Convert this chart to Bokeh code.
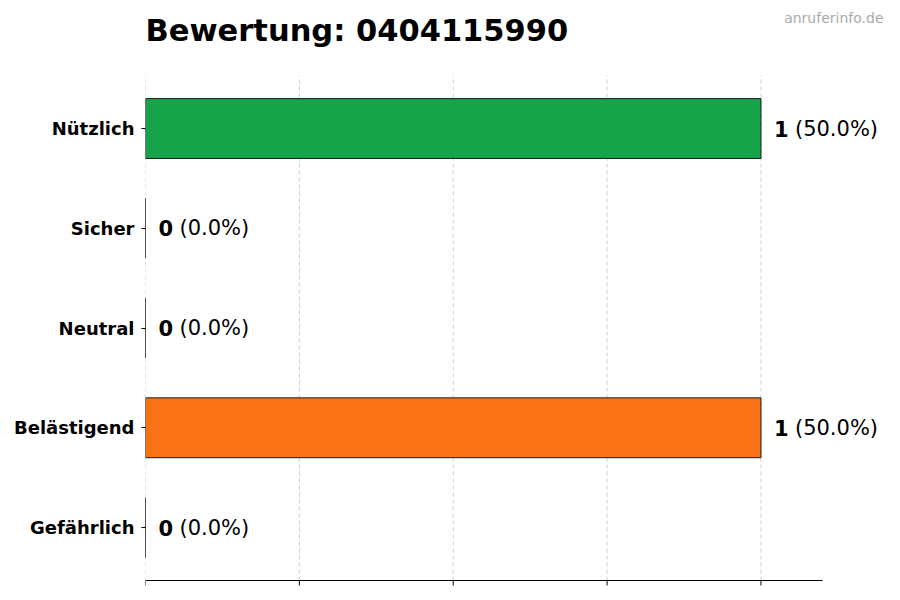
from bokeh.plotting import figure
from bokeh.models import ColumnDataSource, Range1d, FixedTicker
from bokeh.core.properties import value
from bokeh.embed import file_html
from bokeh.resources import INLINE

# data (top to bottom in the picture)
categories = ["Nützlich", "Sicher", "Neutral", "Belästigend", "Gefährlich"]
positions = [4, 3, 2, 1, 0]
counts = [1, 0, 0, 1, 0]
count_labels = ["1", "0", "0", "1", "0"]
pct_labels = ["(50.0%)", "(0.0%)", "(0.0%)", "(50.0%)", "(0.0%)"]
colors = ["#16a34a", "#9ca3af", "#3b82f6", "#f97316", "#dc2626"]
x_ticks = [0, 0.25, 0.5, 0.75, 1.0]
x_axis_max = 1.1
title_text = "Bewertung: 0404115990"
watermark = "anruferinfo.de"

FONT = "DejaVu Sans"

# layout (pixels)
LEFT = 145
FRAME_W = 750
AXIS_W = 677           # pixel length of the drawn x axis (0 .. x_axis_max)
FRAME_H = 600
BOTTOM_GAP = 20        # pixels below the x axis line
ROW_PX = 99.75
PAD = 0.531            # category padding in row units
TICK_LEN = 5 / ROW_PX

x_end = x_axis_max * FRAME_W / AXIS_W
y_axis = min(positions) - PAD
y_top_row = max(positions) + PAD
y_start = y_axis - BOTTOM_GAP / ROW_PX
y_end = y_start + FRAME_H / ROW_PX

src = ColumnDataSource(dict(y=positions, n=counts, nl=count_labels, pl=pct_labels, c=colors))
grid_src = ColumnDataSource(dict(x=x_ticks, y0=[y_axis] * len(x_ticks), y1=[y_top_row] * len(x_ticks),
                                 t1=[y_axis - TICK_LEN] * len(x_ticks)))

p = figure(
    x_range=Range1d(0, x_end), y_range=Range1d(y_start, y_end),
    frame_width=FRAME_W, frame_height=FRAME_H,
    min_border_left=LEFT, min_border_right=5, min_border_top=0, min_border_bottom=0,
    output_backend="svg", toolbar_location=None,
)
p.title = None
p.outline_line_color = None
p.background_fill_color = "white"
p.border_fill_color = "white"
p.xgrid.grid_line_color = None
p.ygrid.grid_line_color = None
p.xaxis.visible = False

# dashed vertical grid lines (only over the plot area)
p.segment(x0="x", x1="x", y0="y0", y1="y1", source=grid_src, line_color="#cfcfcf",
          line_dash="4 3", line_width=1, level="underlay")

p.hbar(y="y", left=0, right="n", height=0.6, source=src,
       fill_color="c", line_color="#1a1a1a", line_width=1)

# x axis line and tick marks
p.segment(x0=[0], x1=[x_axis_max], y0=[y_axis], y1=[y_axis], line_color="black", line_width=1)
p.segment(x0="x", x1="x", y0="y0", y1="t1", source=grid_src, line_color="black", line_width=1)

# value labels: bold count + regular percentage
p.text(x="n", y="y", text="nl", source=src, x_offset=13,
       text_font=value(FONT), text_font_size="21px", text_font_style="bold",
       text_baseline="middle", text_align="left", text_color="black")
p.text(x="n", y="y", text="pl", source=src, x_offset=34,
       text_font=value(FONT), text_font_size="21px", text_font_style="normal",
       text_baseline="middle", text_align="left", text_color="black")

# title and watermark anchored to the top of the frame
p.text(x=[0], y=[y_end], text=[title_text], y_offset=30,
       text_font=value(FONT), text_font_size="30.5px", text_font_style="bold",
       text_baseline="alphabetic", text_align="left", text_color="black")
p.text(x=[x_end], y=[y_end], text=[watermark], x_offset=-12, y_offset=17,
       text_font=value(FONT), text_font_size="14px",
       text_baseline="middle", text_align="right", text_color="#aaaaaa")

# y axis (category labels)
p.yaxis.ticker = FixedTicker(ticks=positions)
p.yaxis.major_label_overrides = {pos: cat for pos, cat in zip(positions, categories)}
p.yaxis.axis_line_color = None
p.yaxis.major_tick_line_color = "black"
p.yaxis.major_tick_out = 4
p.yaxis.major_tick_in = 0
p.yaxis.minor_tick_line_color = None
p.yaxis.major_label_text_font = FONT
p.yaxis.major_label_text_font_size = "18px"
p.yaxis.major_label_text_font_style = "bold"
p.yaxis.major_label_text_color = "black"
p.yaxis.major_label_standoff = 7

open("out.html", "w").write(file_html(p, INLINE))
